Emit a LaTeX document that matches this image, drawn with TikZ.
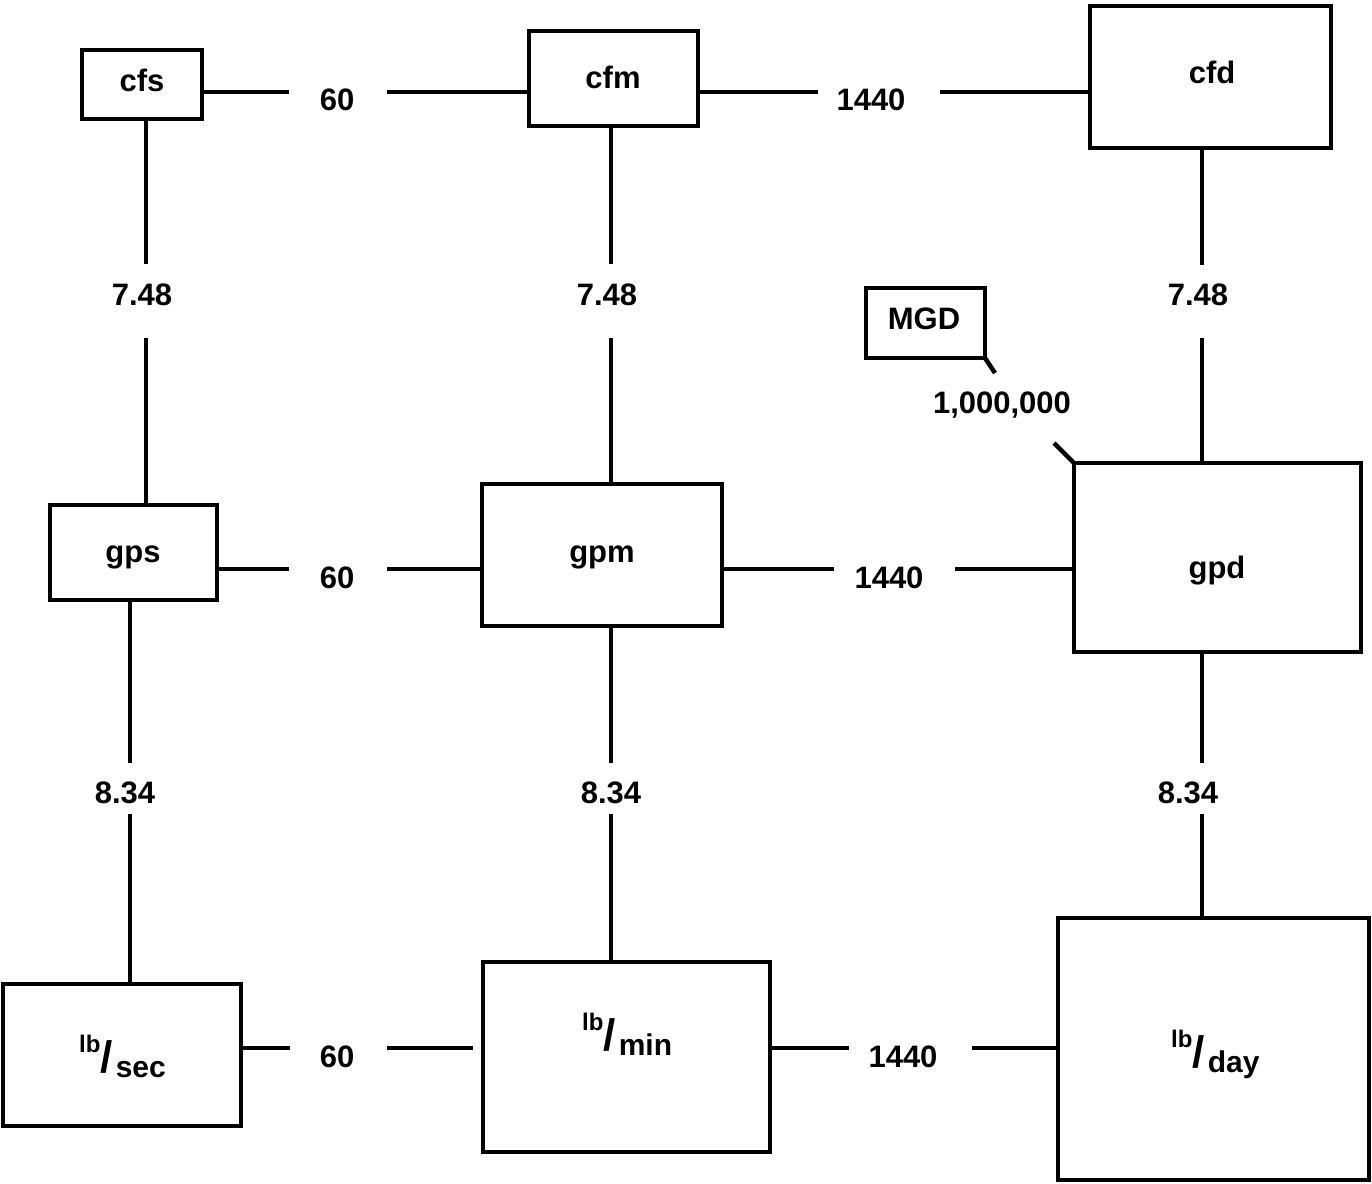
\documentclass[tikz,border=0pt]{standalone}
\usepackage{fontspec}
\setmainfont{Liberation Sans}
\newcommand\ratetxt[2]{\raisebox{20pt}{\fontsize{24}{24}\selectfont\bfseries #1}{\fontsize{44}{44}\selectfont\bfseries /}\kern3pt\raisebox{-5pt}{\fontsize{30}{30}\selectfont\bfseries #2}}
\begin{document}
\begin{tikzpicture}[x=1pt,y=-1pt,
  box/.style={draw, line width=4.5pt, rectangle, inner sep=0pt, outer sep=0pt},
  conn/.style={line width=4.5pt},
  lab/.style={inner sep=0pt, anchor=base, font=\fontsize{31}{36}\selectfont\bfseries},
  ratelab/.style={inner sep=0pt, anchor=base west}]
\useasboundingbox[fill=white] (0,0) rectangle (1372,1183);

% boxes
\node[box, minimum width=120, minimum height=69] (cfs) at (142,84.5) {};
\node[box, minimum width=169, minimum height=95] (cfm) at (613.5,78.5) {};
\node[box, minimum width=241, minimum height=142] (cfd) at (1210.5,77) {};
\node[box, minimum width=119, minimum height=70] (mgd) at (925.5,323) {};
\node[box, minimum width=167, minimum height=95] (gps) at (133.5,552.5) {};
\node[box, minimum width=240, minimum height=142] (gpm) at (602,555) {};
\node[box, minimum width=287, minimum height=189] (gpd) at (1217.5,557.5) {};
\node[box, minimum width=238, minimum height=142] (lbs) at (122,1055) {};
\node[box, minimum width=287, minimum height=190] (lbm) at (626.5,1057) {};
\node[box, minimum width=311, minimum height=262] (lbd) at (1213.5,1049) {};

% box texts
\node[lab] (tcfs) at (142,91) {cfs};
\node[lab] (tcfm) at (613,88) {cfm};
\node[lab] (tcfd) at (1212,83) {cfd};
\node[lab] (tmgd) at (924,329) {MGD};
\node[lab] (tgps) at (133,562) {gps};
\node[lab] (tgpm) at (602,562) {gpm};
\node[lab] (tgpd) at (1217,578) {gpd};
\node[ratelab] (tlbs) at (79,1072) {\ratetxt{lb}{sec}};
\node[ratelab] (tlbm) at (582,1050) {\ratetxt{lb}{min}};
\node[ratelab] (tlbd) at (1171,1067) {\ratetxt{lb}{day}};

% factor labels
\node[lab] (f1) at (337,110) {60};
\node[lab] (f2) at (871,110) {1440};
\node[lab] (f3) at (337,588) {60};
\node[lab] (f4) at (889,588) {1440};
\node[lab] (f5) at (337,1067) {60};
\node[lab] (f6) at (903,1067) {1440};
\node[lab] (v1) at (142,305) {7.48};
\node[lab] (v2) at (607,305) {7.48};
\node[lab] (v3) at (1198,305) {7.48};
\node[lab] (v4) at (125,803) {8.34};
\node[lab] (v5) at (611,803) {8.34};
\node[lab] (v6) at (1188,803) {8.34};
\node[lab] (mil) at (1002,413) {1,000,000};

% free line ends
\coordinate (r1a) at (289,92);  \coordinate (r1b) at (387,92);
\coordinate (r1c) at (818,92);  \coordinate (r1d) at (940,92);
\coordinate (r2a) at (289,569); \coordinate (r2b) at (387,569);
\coordinate (r2c) at (834,569); \coordinate (r2d) at (955,569);
\coordinate (r3a) at (290,1048); \coordinate (r3b) at (387,1048);
\coordinate (r3e) at (473,1048);
\coordinate (r3c) at (849,1048); \coordinate (r3d) at (972,1048);
\coordinate (c1a) at (146,264); \coordinate (c1b) at (146,338);
\coordinate (c1c) at (130,763); \coordinate (c1d) at (130,814);
\coordinate (c2a) at (611,264); \coordinate (c2b) at (611,338);
\coordinate (c2c) at (611,763); \coordinate (c2d) at (611,814);
\coordinate (c3a) at (1202,265); \coordinate (c3b) at (1202,338);
\coordinate (c3c) at (1202,763); \coordinate (c3d) at (1202,814);
\coordinate (m1) at (995,373); \coordinate (m2) at (1054,443);

% horizontal connectors
\draw[conn] (cfs.east |- r1a) -- (r1a);
\draw[conn] (r1b) -- (cfm.west |- r1b);
\draw[conn] (cfm.east |- r1c) -- (r1c);
\draw[conn] (r1d) -- (cfd.west |- r1d);
\draw[conn] (gps.east |- r2a) -- (r2a);
\draw[conn] (r2b) -- (gpm.west |- r2b);
\draw[conn] (gpm.east |- r2c) -- (r2c);
\draw[conn] (r2d) -- (gpd.west |- r2d);
\draw[conn] (lbs.east |- r3a) -- (r3a);
\draw[conn] (r3b) -- (r3e);
\draw[conn] (lbm.east |- r3c) -- (r3c);
\draw[conn] (r3d) -- (lbd.west |- r3d);

% vertical connectors
\draw[conn] (cfs.south -| c1a) -- (c1a);
\draw[conn] (c1b) -- (gps.north -| c1b);
\draw[conn] (gps.south -| c1c) -- (c1c);
\draw[conn] (c1d) -- (lbs.north -| c1d);
\draw[conn] (cfm.south -| c2a) -- (c2a);
\draw[conn] (c2b) -- (gpm.north -| c2b);
\draw[conn] (gpm.south -| c2c) -- (c2c);
\draw[conn] (c2d) -- (lbm.north -| c2d);
\draw[conn] (cfd.south -| c3a) -- (c3a);
\draw[conn] (c3b) -- (gpd.north -| c3b);
\draw[conn] (gpd.south -| c3c) -- (c3c);
\draw[conn] (c3d) -- (lbd.north -| c3d);

% MGD connector
\draw[conn] (mgd.south east) -- (m1);
\draw[conn] (m2) -- (gpd.north west);
\end{tikzpicture}
\end{document}
